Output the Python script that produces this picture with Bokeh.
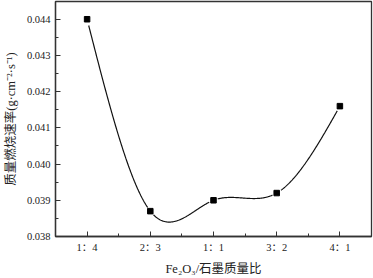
import numpy as np
from bokeh.plotting import figure
from bokeh.models import FixedTicker, Range1d, NumeralTickFormatter
from bokeh.embed import file_html
from bokeh.resources import INLINE

categories = ["1：4", "2：3", "1：1", "3：2", "4：1"]
rates = [0.0440, 0.0387, 0.0390, 0.0392, 0.0416]
y_ticks = [0.038, 0.039, 0.040, 0.041, 0.042, 0.043, 0.044]
y_minor = [0.0385, 0.0395, 0.0405, 0.0415, 0.0425, 0.0435]
x_label = "Fe₂O₃/石墨质量比"
y_label = "质量燃烧速率(g·cm⁻²·s⁻¹)"

xs = np.arange(1, len(categories) + 1, dtype=float)
ys = np.array(rates)

X0, X1 = 0.5, 5.5
Y0, Y1 = 0.038, 0.04449
FW, FH = 321.0, 237.0  # approximate frame size in px (for marker gaps)

# natural cubic spline through the data points (smooth connecting line)
n = len(xs)
A = np.zeros((n, n)); b = np.zeros(n)
A[0, 0] = 1; A[-1, -1] = 1
for i in range(1, n - 1):
    h0 = xs[i] - xs[i - 1]; h1 = xs[i + 1] - xs[i]
    A[i, i - 1] = h0; A[i, i] = 2 * (h0 + h1); A[i, i + 1] = h1
    b[i] = 6 * ((ys[i + 1] - ys[i]) / h1 - (ys[i] - ys[i - 1]) / h0)
M = np.linalg.solve(A, b)
seg_x, seg_y = [], []
kx = FW / (X1 - X0); ky = FH / (Y1 - Y0)
for i in range(n - 1):
    h = xs[i + 1] - xs[i]
    t = np.linspace(0, 1, 120)
    x = xs[i] + t * h
    a_ = 1 - t
    y = (a_ * ys[i] + t * ys[i + 1]
         + ((a_ ** 3 - a_) * M[i] + (t ** 3 - t) * M[i + 1]) * h * h / 6)
    d0 = np.hypot((x - xs[i]) * kx, (y - ys[i]) * ky)
    d1 = np.hypot((x - xs[i + 1]) * kx, (y - ys[i + 1]) * ky)
    keep = (d0 > 4.5) & (d1 > 4.5)
    seg_x.append(list(x[keep])); seg_y.append(list(y[keep]))

SERIF = "Liberation Serif, Noto Sans CJK SC"
p = figure(width=373, height=278, output_backend="svg", toolbar_location=None,
           x_range=Range1d(X0, X1), y_range=Range1d(Y0, Y1),
           min_border_left=51, min_border_right=2, min_border_top=1, min_border_bottom=39)
p.background_fill_color = "white"
p.border_fill_color = "white"
p.outline_line_color = "#333333"
p.outline_line_width = 1.3
p.xgrid.visible = False
p.ygrid.visible = False

p.multi_line(seg_x, seg_y, line_color="#111111", line_width=1.2)
p.scatter(xs, ys, marker="square", size=5.5, fill_color="black", line_color="black")

p.xaxis.ticker = FixedTicker(ticks=list(xs), minor_ticks=[1.5, 2.5, 3.5, 4.5])
p.xaxis.major_label_overrides = {float(v): c for v, c in zip(xs, categories)}
p.xaxis.major_label_overrides.update({int(v): c for v, c in zip(xs, categories)})
p.yaxis.ticker = FixedTicker(ticks=y_ticks, minor_ticks=y_minor)
p.yaxis.formatter = NumeralTickFormatter(format="0.000")
p.xaxis.axis_label = x_label
p.yaxis.axis_label = y_label

for ax in (p.xaxis[0], p.yaxis[0]):
    ax.axis_line_color = "#333333"
    ax.axis_line_width = 1.3
    ax.major_tick_in = 5
    ax.major_tick_out = 0
    ax.minor_tick_in = 3
    ax.minor_tick_out = 0
    ax.major_tick_line_color = "#333333"
    ax.minor_tick_line_color = "#333333"
    ax.major_label_text_font = SERIF
    ax.major_label_text_font_size = "10.5px"
    ax.major_label_text_color = "#222222"
    ax.axis_label_text_font = SERIF
    ax.axis_label_text_font_size = "12.5px"
    ax.axis_label_text_font_style = "normal"
    ax.axis_label_text_color = "#222222"
    ax.major_label_standoff = 5
    ax.axis_label_standoff = 6

open("out.html", "w").write(file_html(p, INLINE))
